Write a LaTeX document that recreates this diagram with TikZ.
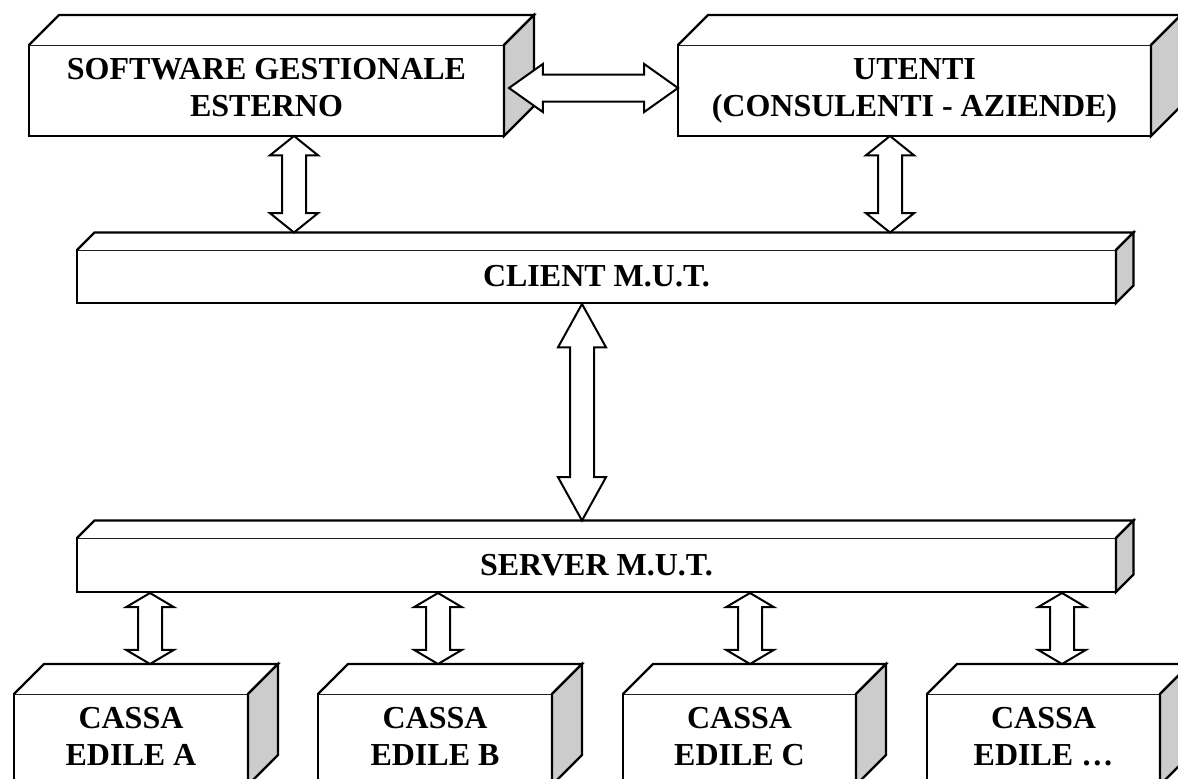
\documentclass[tikz,border=0pt]{standalone}
\usepackage{fontspec}
\setmainfont{Liberation Serif}
\usetikzlibrary{calc}
\definecolor{sidegray}{HTML}{CCCCCC}
\tikzset{
  face/.style={draw, fill=white, line width=2.2pt, outer sep=0pt, inner sep=0pt,
    align=center, font=\bfseries\fontsize{32}{37}\selectfont, anchor=north west},
  tall/.style={text depth=6pt},
  edge/.style={line width=2.2pt, line join=miter},
  arr/.style={draw, fill=white, line width=2pt, line join=miter},
}
\newcommand\boxfaces[2]{%
  \filldraw[edge, fill=white] (#1.north west) -- ++(#2,-#2) -- ($(#1.north east)+(#2,-#2)$) -- (#1.north east);
  \filldraw[edge, fill=sidegray] (#1.north east) -- ++(#2,-#2) -- ($(#1.south east)+(#2,-#2)$) -- (#1.south east) -- cycle;}
\newcommand\dblarrow[3]{%
  \coordinate (ha) at ($(#1)!0.2!(#2)$);
  \coordinate (hb) at ($(#2)!0.2!(#1)$);
  \path[arr] (#1) -- ($(ha)!24pt!90:(#2)$) -- ($(ha)!#3!90:(#2)$) -- ($(hb)!#3!-90:(#1)$)
    -- ($(hb)!24pt!-90:(#1)$) -- (#2) -- ($(hb)!24pt!90:(#1)$) -- ($(hb)!#3!90:(#1)$)
    -- ($(ha)!#3!-90:(#2)$) -- ($(ha)!24pt!-90:(#2)$) -- cycle;}
\begin{document}
\begin{tikzpicture}[x=1pt,y=-1pt]
\useasboundingbox (0,0) rectangle (1178,779);
\clip (0,0) rectangle (1178,779);
\fill[white] (0,0) rectangle (1178,779);
% boxes
\node[face, tall, minimum width=475pt, minimum height=91pt] (sw) at (29,45) {SOFTWARE GESTIONALE\\ESTERNO};
\boxfaces{sw}{30}
\node[face, tall, minimum width=473pt, minimum height=91pt] (ut) at (678,45) {UTENTI\\(CONSULENTI - AZIENDE)};
\boxfaces{ut}{30}
\node[face, minimum width=1039pt, minimum height=53pt] (client) at (77,250) {CLIENT M.U.T.};
\boxfaces{client}{17.5}
\node[face, minimum width=1039pt, minimum height=54pt] (server) at (77,538) {SERVER M.U.T.};
\boxfaces{server}{17.5}
\node[face, tall, minimum width=234pt, minimum height=91pt] (ca) at (14,694) {CASSA\\EDILE A};
\boxfaces{ca}{30}
\node[face, tall, minimum width=234pt, minimum height=91pt] (cb) at (318,694) {CASSA\\EDILE B};
\boxfaces{cb}{30}
\node[face, tall, minimum width=233pt, minimum height=91pt] (cc) at (623,694) {CASSA\\EDILE C};
\boxfaces{cc}{30}
\node[face, tall, minimum width=233pt, minimum height=91pt] (cd) at (927,694) {CASSA\\EDILE \dots};
\boxfaces{cd}{30}
% back top edges
\coordinate (clientback) at ($(client.north)+(0,-17.5)$);
\coordinate (serverback) at ($(server.north)+(0,-17.5)$);
\coordinate (caback) at ($(ca.north)+(0,-30)$);
% connectors
\coordinate (hl) at ($(sw.east)+(5,-2.5)$);
\coordinate (hr) at (ut.west |- hl);
\dblarrow{hl}{hr}{13.5pt}
\coordinate (xa) at (294,0);
\coordinate (xb) at (890,0);
\coordinate (xc) at (582,0);
\coordinate (a1) at (xa |- sw.south); \coordinate (a2) at (xa |- clientback);
\dblarrow{a1}{a2}{12pt}
\coordinate (b1) at (xb |- ut.south); \coordinate (b2) at (xb |- clientback);
\dblarrow{b1}{b2}{12pt}
\coordinate (c1) at ($(xc |- client.south)+(0,1)$); \coordinate (c2) at (xc |- serverback);
\dblarrow{c1}{c2}{12pt}
\coordinate (d1) at ($(ca.north west)+(136,-101)$); \coordinate (d2) at (d1 |- caback);
\dblarrow{d1}{d2}{12pt}
\coordinate (e1) at ($(cb.north west)+(120,-101)$); \coordinate (e2) at (e1 |- caback);
\dblarrow{e1}{e2}{12pt}
\coordinate (f1) at ($(cc.north west)+(127,-101)$); \coordinate (f2) at (f1 |- caback);
\dblarrow{f1}{f2}{12pt}
\coordinate (g1) at ($(cd.north west)+(135,-101)$); \coordinate (g2) at (g1 |- caback);
\dblarrow{g1}{g2}{12pt}
\end{tikzpicture}
\end{document}
